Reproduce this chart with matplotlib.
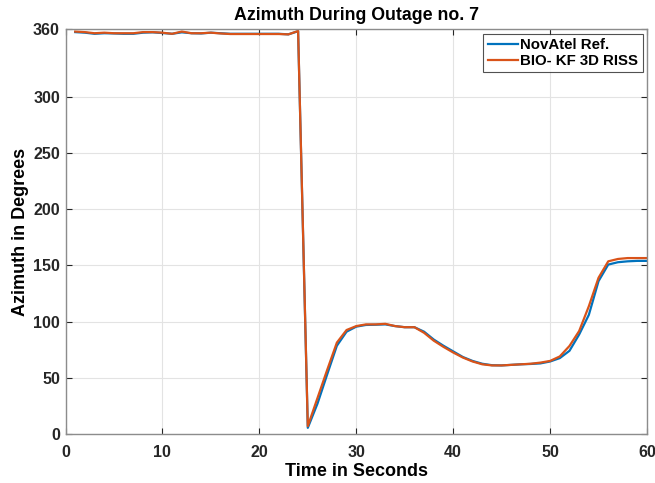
import matplotlib
matplotlib.use("Agg")
import matplotlib.pyplot as plt

time_s = list(range(1, 61))

novatel_ref = [
    357.5, 357.0, 356.0, 356.5, 356.3, 356.0, 356.0, 357.0, 357.3, 356.7,
    356.0, 357.3, 356.5, 356.3, 357.0, 356.5, 356.0, 356.0, 356.0, 356.0,
    356.0, 356.0, 355.5, 358.3,
    5.5, 27.0, 53.0, 78.5, 91.0, 95.5, 97.0, 97.2, 97.5, 96.0,
    95.0, 95.0, 91.0, 84.0, 78.5, 73.5, 68.5, 65.0, 62.5, 61.2,
    61.0, 61.5, 62.0, 62.3, 62.8, 64.5, 67.5, 74.0, 88.5, 106.0,
    136.0, 150.7, 152.8, 153.6, 154.0, 154.0,
]

bio_kf_riss = [
    358.0, 357.5, 356.5, 357.0, 356.5, 356.5, 356.5, 357.5, 357.5, 357.0,
    356.0, 358.0, 356.5, 356.5, 357.0, 356.3, 355.8, 355.8, 355.8, 355.8,
    355.8, 355.8, 355.5, 358.5,
    7.0, 32.0, 57.0, 81.3, 92.5, 96.0, 97.5, 97.5, 98.0, 96.0,
    95.0, 95.0, 90.0, 83.0, 77.5, 72.5, 68.0, 64.5, 62.0, 61.0,
    61.0, 61.5, 62.0, 62.5, 63.5, 65.0, 69.0, 78.3, 91.6, 113.7,
    139.0, 153.6, 155.7, 156.5, 156.5, 156.5,
]

x_ticks = [0, 10, 20, 30, 40, 50, 60]
y_ticks = [0, 50, 100, 150, 200, 250, 300, 360]

plt.rcParams['font.family'] = ['Liberation Sans', 'DejaVu Sans']
plt.rcParams['font.weight'] = 'bold'

fig = plt.figure(figsize=(6.55, 4.83), dpi=100)
ax = fig.add_axes([65.5 / 655, 1 - 434 / 483, (647 - 65.5) / 655, (434 - 29.3) / 483])

ax.plot(time_s, novatel_ref, color='#0072BD', lw=1.6, label='NovAtel Ref.')
ax.plot(time_s, bio_kf_riss, color='#D95319', lw=1.6, label='BIO- KF 3D RISS')

ax.set_xlim(0, 60)
ax.set_ylim(0, 360)
ax.set_xticks(x_ticks)
ax.set_yticks(y_ticks)
ax.grid(True, color='#e3e3e3', lw=0.8)
ax.set_axisbelow(True)
for sp in ax.spines.values():
    sp.set_color('#8c8c8c')
    sp.set_linewidth(1.0)
ax.tick_params(direction='in', length=4, color='#262626', labelcolor='#262626',
               labelsize=11.5, top=True, right=True, width=0.8)
ax.tick_params(axis='x', pad=8)
ax.tick_params(axis='y', pad=4)
for lbl in ax.get_xticklabels() + ax.get_yticklabels():
    lbl.set_fontweight('bold')

ax.set_title('Azimuth During Outage no. 7', fontsize=12.8, fontweight='bold', pad=6.5)
ax.set_xlabel('Time in Seconds', fontsize=13, fontweight='bold', labelpad=2)
ax.set_ylabel('Azimuth in Degrees', fontsize=13, fontweight='bold', labelpad=3)

leg = ax.legend(loc='upper right', fontsize=10.8, frameon=True, fancybox=False,
                edgecolor='#262626', handlelength=2.0, handletextpad=0.15,
                borderaxespad=0.3, borderpad=0.3, labelspacing=0.1)
leg.get_frame().set_linewidth(0.8)
for t in leg.get_texts():
    t.set_fontweight('bold')
    t.set_color('#000000')

fig.savefig('out.png', dpi=100)
